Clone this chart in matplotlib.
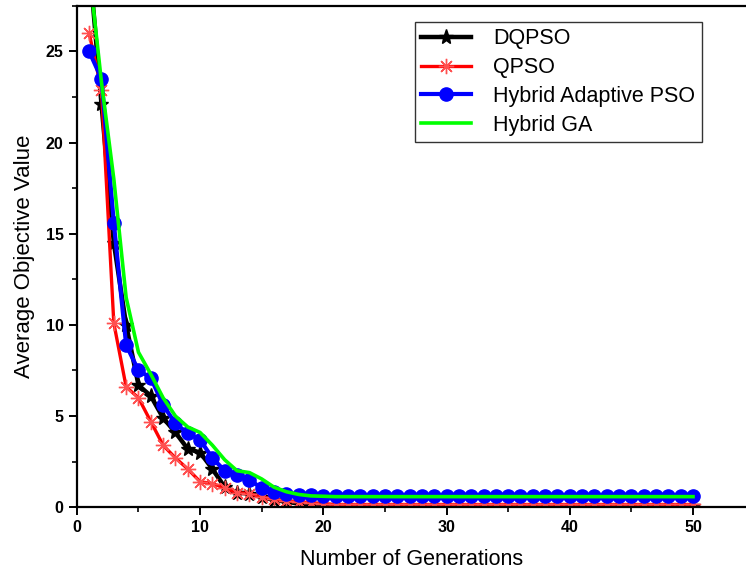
import matplotlib
matplotlib.use("Agg")
import matplotlib.pyplot as plt
from matplotlib.ticker import MultipleLocator

plt.rcParams['font.family'] = ['Liberation Sans', 'DejaVu Sans']

generations = list(range(1, 51))

dqpso = [30.0, 22.1, 14.5, 10.0, 6.7, 6.1, 4.9, 4.1, 3.2, 3.0,
         2.1, 1.1, 0.8, 0.75, 0.55, 0.4, 0.3, 0.2, 0.12, 0.08] + [0.06] * 30
qpso = [26.0, 22.9, 10.1, 6.6, 6.0, 4.7, 3.4, 2.7, 2.1, 1.4,
        1.3, 1.05, 0.8, 0.75, 0.55, 0.45, 0.35, 0.3, 0.25, 0.2] + [0.15] * 30
hapso = [25.0, 23.5, 15.6, 8.9, 7.5, 7.1, 5.6, 4.6, 4.05, 3.7,
         2.7, 2.0, 1.75, 1.5, 1.05, 0.85, 0.72, 0.68, 0.65, 0.62] + [0.6] * 30
hga = [29.5, 23.3, 18.0, 11.5, 8.5, 7.3, 6.0, 5.0, 4.4, 4.1,
       3.4, 2.6, 2.0, 1.9, 1.55, 1.1, 0.85, 0.7, 0.62, 0.6] + [0.58] * 30

labels = ["DQPSO", "QPSO", "Hybrid Adaptive PSO", "Hybrid GA"]
x_ticks = [0, 10, 20, 30, 40, 50]
y_ticks = [0, 5, 10, 15, 20, 25]

fig = plt.figure(figsize=(7.46, 5.81), dpi=100)
ax = fig.add_axes([0.103, 0.127, 0.897, 0.863])

ax.plot(generations, dqpso, color='black', lw=3.2, marker='*', ms=11,
        mfc='black', mec='black', label=labels[0])
ax.plot(generations, qpso, color='red', lw=2.4, marker=(8, 2, 0), ms=11,
        mec='#ff5050', mew=1.0, label=labels[1])
ax.plot(generations, hapso, color='blue', lw=3.0, marker='o', ms=9.5,
        mfc='blue', mec='blue', label=labels[2])
ax.plot(generations, hga, color='#00ff00', lw=2.6, label=labels[3])

ax.set_xlim(0, 54.3)
ax.set_ylim(0, 27.5)
ax.set_xticks(x_ticks)
ax.set_yticks(y_ticks)
ax.xaxis.set_minor_locator(MultipleLocator(5))
ax.yaxis.set_minor_locator(MultipleLocator(2.5))

for side in ['left', 'bottom', 'top']:
    ax.spines[side].set_linewidth(1.6)
ax.spines['right'].set_visible(False)

ax.tick_params(which='major', direction='out', length=6, width=1.4,
               labelsize=11.5, top=False, right=False)
ax.tick_params(which='minor', direction='out', length=3.5, width=1.2,
               top=False, right=False)
for lbl in ax.get_xticklabels() + ax.get_yticklabels():
    lbl.set_fontweight('bold')

ax.set_xlabel("Number of Generations", fontsize=15.5, labelpad=10)
ax.set_ylabel("Average Objective Value", fontsize=16, labelpad=8)

leg = ax.legend(loc='upper right', bbox_to_anchor=(0.934, 0.968),
                borderaxespad=0.0, fontsize=15.5,
                frameon=True, fancybox=False, edgecolor='black',
                handlelength=2.3, borderpad=0.3, labelspacing=0.36,
                handletextpad=1.05)
leg.get_frame().set_linewidth(1.0)

fig.savefig("out.png", dpi=100)
